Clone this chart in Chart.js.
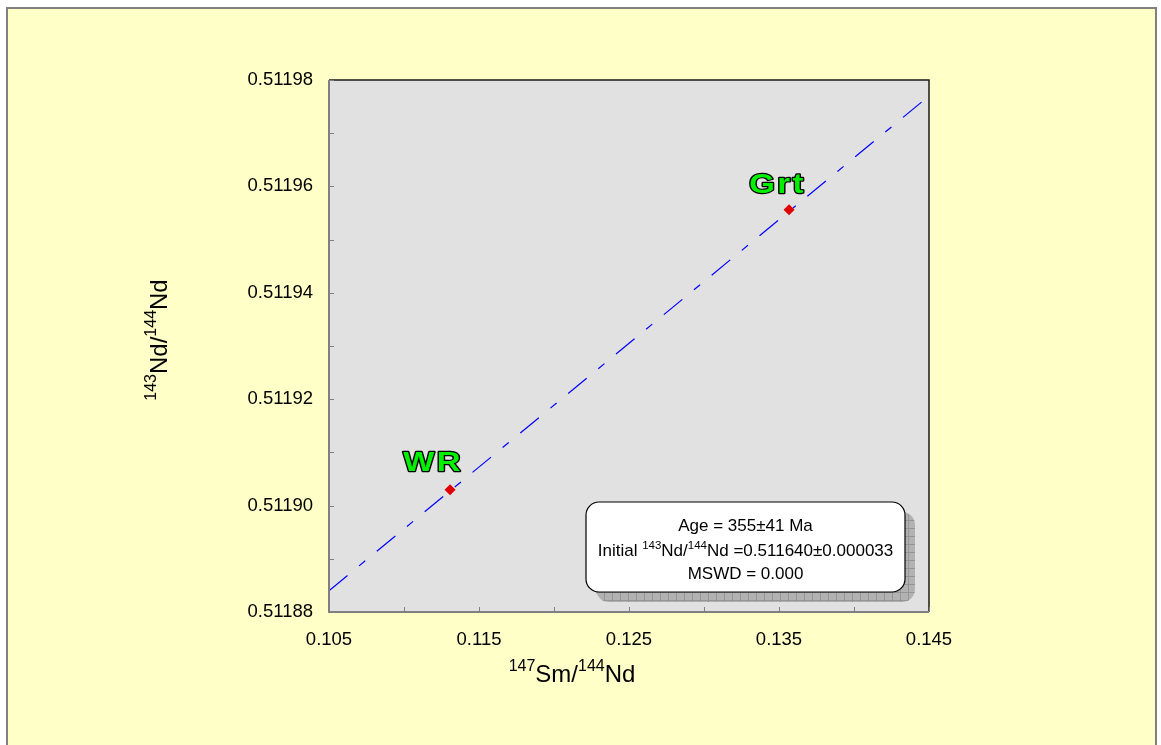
<!DOCTYPE html>
<html>
<head>
<meta charset="utf-8">
<title>Sm-Nd isochron</title>
<script src="https://cdn.jsdelivr.net/npm/chart.js@4"></script>
<style>
  html, body { margin: 0; padding: 0; background: #fff; }
  #wrap { width: 1161px; height: 745px; }
</style>
</head>
<body>
<div id="wrap"><canvas id="isochron" width="1161" height="745"></canvas></div>
<script>
// samples
const sampleNames = ['WR', 'Grt'];
const smNd = [0.11307, 0.13567];
const ndNd = [0.511903, 0.5119556];

// fitted isochron, end points at the axis limits
const isoLineX = [0.105, 0.145];
const isoLineY = [0.511884, 0.511977];

// axes
const xMin = 0.105, xMax = 0.145, xStep = 0.005;
const yMin = 0.51188, yMax = 0.51198, yStep = 0.00001;

// result box text, split into normal / superscript runs
const resultLines = [
    [['Age = 355±41 Ma', false]],
    [['Initial ', false], ['143', true], ['Nd/', false], ['144', true], ['Nd =0.511640±0.000033', false]],
    [['MSWD = 0.000', false]]
];
const xTitle = [['147', true], ['Sm/', false], ['144', true], ['Nd', false]];
const yTitle = [['143', true], ['Nd/', false], ['144', true], ['Nd', false]];

const FONT = '"Liberation Sans", Arial, sans-serif';

function richWidth(ctx, runs, size, supSize) {
    let w = 0;
    runs.forEach(([t, sup]) => {
        ctx.font = (sup ? supSize : size) + 'px ' + FONT;
        w += ctx.measureText(t).width;
    });
    return w;
}

// draws runs centred on x with baseline y
function drawRich(ctx, runs, x, y, size, supSize, rise) {
    let cx = x - richWidth(ctx, runs, size, supSize) / 2;
    ctx.textAlign = 'left';
    ctx.textBaseline = 'alphabetic';
    runs.forEach(([t, sup]) => {
        ctx.font = (sup ? supSize : size) + 'px ' + FONT;
        ctx.fillText(t, cx, sup ? y - rise : y);
        cx += ctx.measureText(t).width;
    });
}

function roundRect(ctx, x, y, w, h, r) {
    ctx.beginPath();
    ctx.moveTo(x + r, y);
    ctx.arcTo(x + w, y, x + w, y + h, r);
    ctx.arcTo(x + w, y + h, x, y + h, r);
    ctx.arcTo(x, y + h, x, y, r);
    ctx.arcTo(x, y, x + w, y, r);
    ctx.closePath();
}

const framePlugin = {
    id: 'frame',
    beforeDraw(chart) {
        const ctx = chart.ctx;
        const a = chart.chartArea;
        ctx.save();
        ctx.fillStyle = '#ffffff';
        ctx.fillRect(0, 0, chart.width, chart.height);
        ctx.fillStyle = '#ffffc8';
        ctx.fillRect(7, 8, 1149, chart.height);
        ctx.strokeStyle = '#808080';
        ctx.lineWidth = 2;
        ctx.beginPath();
        ctx.moveTo(7, chart.height + 2);
        ctx.lineTo(7, 8);
        ctx.lineTo(1156, 8);
        ctx.lineTo(1156, chart.height + 2);
        ctx.stroke();
        ctx.fillStyle = '#e1e1e1';
        ctx.fillRect(a.left, a.top, a.right - a.left, a.bottom - a.top);
        ctx.restore();
    },
    afterDraw(chart) {
        const ctx = chart.ctx;
        const a = chart.chartArea;
        const xs = chart.scales.x, ys = chart.scales.y;
        ctx.save();

        // plot border: dark top/right, grey axes left/bottom
        ctx.strokeStyle = '#1a1a1a';
        ctx.lineWidth = 1.5;
        ctx.beginPath();
        ctx.moveTo(a.left, a.top);
        ctx.lineTo(a.right, a.top);
        ctx.lineTo(a.right, a.bottom);
        ctx.stroke();
        ctx.strokeStyle = '#808080';
        ctx.lineWidth = 2;
        ctx.beginPath();
        ctx.moveTo(a.left, a.top);
        ctx.lineTo(a.left, a.bottom);
        ctx.lineTo(a.right, a.bottom);
        ctx.stroke();

        // inward tick marks
        ctx.lineWidth = 1;
        ctx.beginPath();
        xs.ticks.forEach(t => {
            const px = Math.round(xs.getPixelForValue(t.value)) + 0.5;
            ctx.moveTo(px, a.bottom);
            ctx.lineTo(px, a.bottom - 5);
        });
        ys.ticks.forEach(t => {
            const py = Math.round(ys.getPixelForValue(t.value)) + 0.5;
            ctx.moveTo(a.left, py);
            ctx.lineTo(a.left + 5, py);
        });
        ctx.stroke();

        // sample names above the points, wide outlined lettering
        const offsets = [[-17, -19], [-11.5, -17]];
        sampleNames.forEach((name, i) => {
            const px = xs.getPixelForValue(smNd[i]) + offsets[i][0];
            const py = ys.getPixelForValue(ndNd[i]) + offsets[i][1];
            ctx.save();
            ctx.translate(px, py);
            ctx.scale(1.22, 1);
            ctx.font = 'bold 27px ' + FONT;
            ctx.letterSpacing = '2px';
            ctx.textAlign = 'center';
            ctx.textBaseline = 'alphabetic';
            ctx.lineJoin = 'round';
            ctx.strokeStyle = '#000';
            ctx.lineWidth = 2.4;
            ctx.strokeText(name, 0, 0);
            ctx.fillStyle = '#00f000';
            ctx.fillText(name, 0, 0);
            ctx.restore();
        });

        // result box with hatched shadow
        const bx = 586, by = 502, bw = 319, bh = 90, r = 13;
        ctx.save();
        roundRect(ctx, bx + 10, by + 10, bw, bh, r);
        ctx.fillStyle = '#b2b2b2';
        ctx.fill();
        ctx.clip();
        ctx.strokeStyle = '#959595';
        ctx.lineWidth = 1;
        ctx.beginPath();
        for (let gx = bx + 10; gx < bx + bw + 12; gx += 8) {
            ctx.moveTo(gx + 0.5, by);
            ctx.lineTo(gx + 0.5, by + bh + 12);
        }
        for (let gy = by + 10; gy < by + bh + 12; gy += 8) {
            ctx.moveTo(bx, gy + 0.5);
            ctx.lineTo(bx + bw + 12, gy + 0.5);
        }
        ctx.stroke();
        ctx.restore();
        roundRect(ctx, bx, by, bw, bh, r);
        ctx.fillStyle = '#ffffff';
        ctx.fill();
        ctx.strokeStyle = '#000';
        ctx.lineWidth = 1.2;
        ctx.stroke();
        ctx.fillStyle = '#000';
        const baselines = [531, 556, 579];
        resultLines.forEach((runs, i) => {
            drawRich(ctx, runs, bx + bw / 2, baselines[i], 17, 11.5, 7);
        });

        // axis titles
        drawRich(ctx, xTitle, 572, 682, 24, 16, 11);
        ctx.translate(167, 340);
        ctx.rotate(-Math.PI / 2);
        drawRich(ctx, yTitle, 0, 0, 24, 16, 11);
        ctx.restore();
    }
};

const tickFont = { family: FONT, size: 18.5 };

new Chart(document.getElementById('isochron').getContext('2d'), {
    type: 'scatter',
    data: {
        datasets: [
            {
                label: 'isochron',
                data: isoLineX.map((x, i) => ({ x: x, y: isoLineY[i] })),
                showLine: true,
                borderColor: '#0000ff',
                borderWidth: 1.2,
                borderDash: [24, 15, 8, 15],
                pointRadius: 0,
                fill: false,
                order: 2
            },
            {
                label: 'samples',
                data: smNd.map((x, i) => ({ x: x, y: ndNd[i] })),
                pointStyle: 'rectRot',
                pointRadius: 5.5,
                backgroundColor: '#e00000',
                borderColor: '#e00000',
                borderWidth: 0,
                order: 1
            }
        ]
    },
    options: {
        responsive: false,
        animation: false,
        events: [],
        layout: { padding: { left: 229, right: 232, top: 80, bottom: 33 } },
        plugins: { legend: { display: false }, tooltip: { enabled: false } },
        scales: {
            x: {
                type: 'linear',
                min: xMin,
                max: xMax,
                afterFit: s => { s.height = 100; },
                grid: { display: false, drawTicks: false },
                border: { display: false },
                ticks: {
                    stepSize: xStep,
                    autoSkip: false,
                    maxRotation: 0,
                    padding: 17,
                    color: '#000',
                    font: tickFont,
                    callback: v => Math.round((v - xMin) / xStep) % 2 === 0 ? v.toFixed(3) : ''
                }
            },
            y: {
                type: 'linear',
                min: yMin,
                max: yMax,
                afterFit: s => { s.width = 100; },
                grid: { display: false, drawTicks: false },
                border: { display: false },
                ticks: {
                    stepSize: yStep,
                    autoSkip: false,
                    padding: 16,
                    color: '#000',
                    font: tickFont,
                    callback: v => Math.round((v - yMin) / yStep) % 2 === 0 ? v.toFixed(5) : ''
                }
            }
        }
    },
    plugins: [framePlugin]
});
</script>
</body>
</html>
